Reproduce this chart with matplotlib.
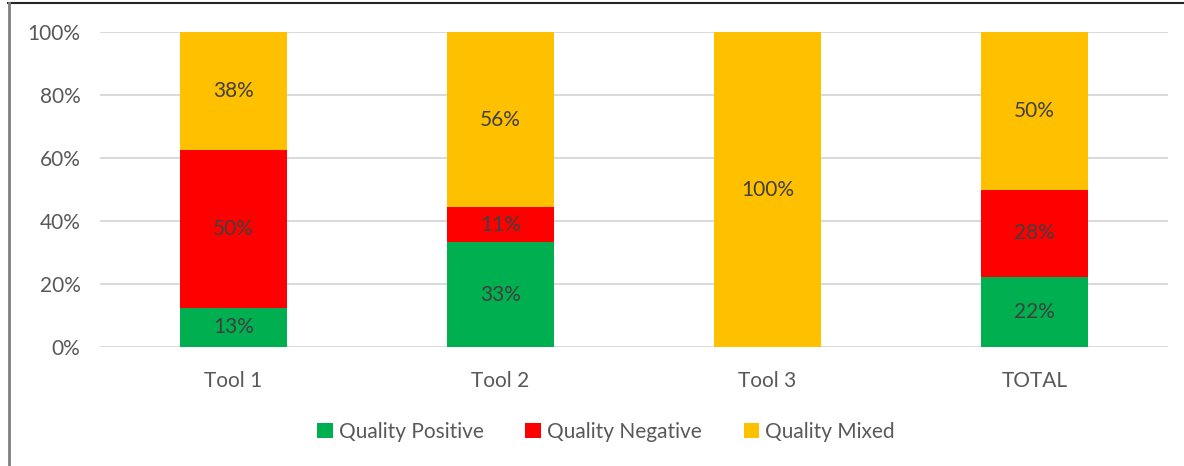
import numpy as np
import matplotlib.pyplot as plt

plt.rcParams['font.family'] = ['Lato', 'DejaVu Sans']

categories = ['Tool 1', 'Tool 2', 'Tool 3', 'TOTAL']
series = ['Quality Positive', 'Quality Negative', 'Quality Mixed']
positive = [12.5, 33.33, 0.0, 22.22]
negative = [50.0, 11.11, 0.0, 27.78]
mixed = [37.5, 55.56, 100.0, 50.0]
colors = ['#00B050', '#FF0000', '#FFC000']

fig = plt.figure(figsize=(11.84, 4.66), dpi=100)
ax = fig.add_axes([100 / 1184, (466 - 347) / 466, 1068 / 1184, 315 / 466])

x = np.arange(len(categories))
bottom = np.zeros(len(categories))
for name, vals, c in zip(series, [positive, negative, mixed], colors):
    vals = np.array(vals)
    ax.bar(x, vals, 0.4, bottom=bottom, color=c, label=name, zorder=2)
    for xi, b, v in zip(x, bottom, vals):
        if v > 0:
            ax.text(xi, b + v / 2, f'{int(np.floor(v + 0.5))}%', ha='center', va='center',
                    fontsize=15, color='#404040', zorder=3)
    bottom += vals

ax.set_xlim(-0.5, 3.5)
ax.set_ylim(0, 100)
ax.set_yticks(np.arange(0, 101, 20))
ax.set_yticklabels([f'{t}%' for t in range(0, 101, 20)])
ax.set_xticks(x)
ax.set_xticklabels(categories)
ax.tick_params(length=0, labelsize=15, colors='#595959')
ax.tick_params(axis='y', pad=14)
ax.tick_params(axis='x', pad=17)
ax.yaxis.grid(True, color='#D9D9D9', lw=1.4, zorder=0)
ax.set_axisbelow(True)
for s in ax.spines.values():
    s.set_visible(False)

fig.legend(loc='center', bbox_to_anchor=(606 / 1184, 1 - 432 / 466), ncol=3, frameon=False,
           fontsize=15, labelcolor='#595959', handlelength=0.75, handleheight=0.75,
           handletextpad=0.3, columnspacing=2.0)

# chart border (top and left edges)
fig.add_artist(plt.Line2D([8 / 1184, 1], [1 - 3 / 466] * 2, color='#262626', lw=1.5))
fig.add_artist(plt.Line2D([8.5 / 1184] * 2, [0, 1 - 3 / 466], color='#808080', lw=2))

fig.savefig('out.png', dpi=100)
